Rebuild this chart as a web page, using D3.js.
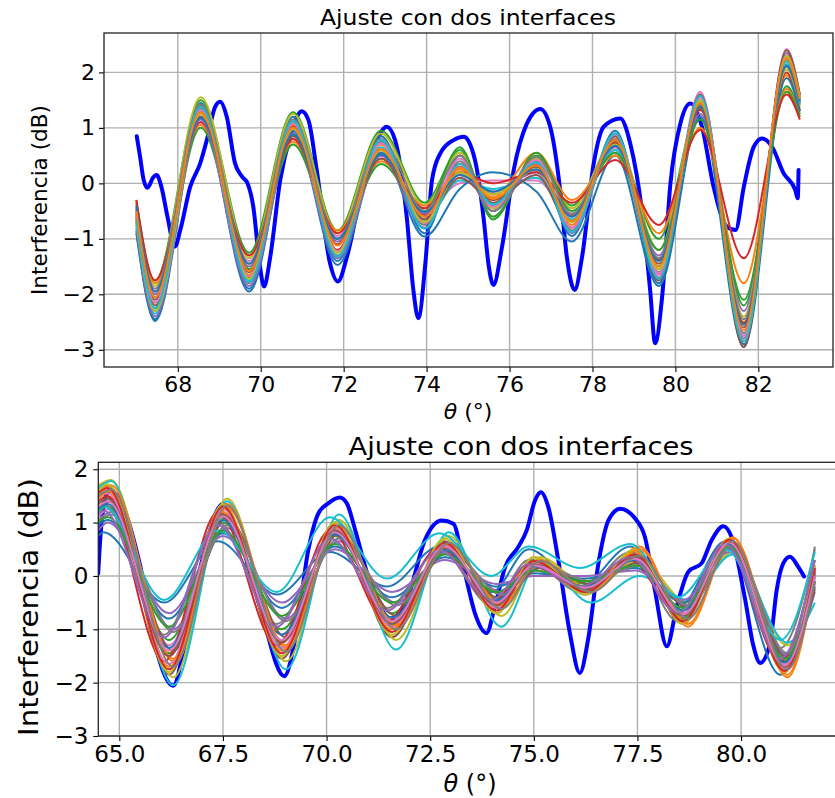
<!DOCTYPE html>
<html><head><meta charset="utf-8">
<script src="https://cdn.jsdelivr.net/npm/d3@7"></script>
<style>
body{margin:0;background:#fff}
svg{display:block}
text{font-family:"DejaVu Sans",sans-serif;fill:#000}
</style>
</head><body>
<svg id="chart" width="835" height="798"></svg>
<script>
// ---------------- DATA ----------------
const titleText = "Ajuste con dos interfaces";
const yLabelText = "Interferencia (dB)";

// Top panel: measured (thick blue) curve
const topBlueTheta = [67.01,67.09,67.18,67.27,67.4,67.49,67.6,67.75,67.93,68.06,68.3,68.54,68.7,68.9,69.02,69.18,69.38,69.55,69.68,69.82,69.97,70.08,70.23,70.47,70.71,70.99,71.15,71.35,71.67,71.86,72.08,72.48,72.8,73.04,73.24,73.52,73.68,73.8,73.97,74.13,74.33,74.65,74.9,75.05,75.2,75.37,75.5,75.61,75.82,76.1,76.42,76.74,76.98,77.22,77.38,77.57,77.75,78.03,78.27,78.67,78.91,79.19,79.39,79.51,79.68,79.88,80.12,80.36,80.64,80.92,81.24,81.45,81.65,81.89,82.09,82.33,82.61,82.89,82.95,82.97];
const topBlueDb = [0.85,0.48,0.05,-0.08,0.1,0.15,-0.05,-0.6,-1.14,-0.84,-0.06,0.36,0.78,1.38,1.47,1.2,0.36,0.12,0.0,-0.42,-1.44,-1.86,-1.32,0.06,0.84,1.3,1.14,0.24,-1.44,-1.77,-1.32,0.06,0.78,1.02,0.78,-0.6,-1.92,-2.43,-1.44,0.06,0.54,0.78,0.84,0.7,0.3,-0.6,-1.5,-1.83,-1.14,0.24,1.08,1.34,1.02,-0.12,-1.32,-1.92,-1.32,0.36,1.02,1.17,0.72,-0.48,-1.92,-2.88,-2.04,0.0,1.08,1.44,1.02,-0.06,-0.78,-0.84,-0.06,0.66,0.81,0.66,0.18,-0.12,-0.27,0.24];

// Top panel: fitted curves, values at the extrema positions
const topFitTheta = [67.0,67.45,68.55,69.72,70.78,71.85,72.9,73.95,74.8,75.6,76.65,77.5,78.55,79.6,80.6,81.65,82.68,83.0];
const topFitValues = [
  [-0.85,-2.45,1.45,-1.9,1.2,-1.4,0.85,-0.9,0.5,-0.5,0.45,-0.95,0.95,-1.8,1.6,-2.9,2.25,1.45],
  [-0.6,-2.15,1.3,-1.65,1.05,-1.2,0.7,-0.7,0.3,-0.3,0.35,-0.75,0.85,-1.55,1.5,-2.5,1.95,1.35],
  [-0.35,-1.75,1.5,-1.25,1.28,-0.85,0.95,-0.35,0.6,-0.6,0.5,-0.4,0.7,-1.0,1.4,-2.2,1.75,1.25],
  [-0.7,-2.25,1.4,-1.7,1.02,-1.2,0.6,-0.57,0.35,-0.2,0.25,-0.57,0.72,-1.38,1.32,-2.52,2.0,1.3],
  [-0.5,-2.0,1.2,-1.5,0.95,-1.05,0.55,-0.55,0.15,-0.15,0.2,-0.6,0.65,-1.3,1.25,-2.3,2.1,1.5],
  [-0.55,-2.1,1.25,-1.55,0.9,-1.1,0.6,-0.6,0.2,-0.35,0.3,-0.7,0.75,-1.45,1.35,-2.6,2.2,1.55],
  [-0.45,-1.95,1.1,-1.4,0.85,-0.95,0.5,-0.45,0.0,0.05,0.05,-0.55,0.6,-1.65,1.65,-2.95,2.42,1.6],
  [-0.65,-2.3,1.35,-1.8,1.1,-1.3,0.75,-0.75,0.4,-0.4,0.4,-0.85,0.9,-1.6,1.5,-2.7,2.3,1.55],
  [-0.4,-1.85,1.55,-1.35,1.25,-0.9,0.9,-0.4,0.55,-0.45,0.45,-0.45,0.8,-1.2,1.45,-2.4,2.05,1.4],
  [-0.75,-2.35,1.3,-1.75,1.0,-1.25,0.65,-0.65,0.05,-0.1,0.1,-0.65,0.6,-1.5,1.45,-2.75,2.15,1.5],
  [-0.9,-2.48,1.2,-1.95,0.95,-1.47,0.55,-0.96,-0.1,0.2,-0.15,-1.05,0.5,-1.85,1.2,-2.95,1.9,1.3],
  [-0.3,-1.8,1.05,-1.3,0.75,-0.85,0.4,-0.4,0.25,-0.25,0.55,-0.3,0.5,-0.9,1.0,-1.8,1.7,1.2],
  [-0.5,-2.05,1.0,-1.55,0.7,-1.0,0.35,-0.5,0.65,-0.65,0.55,-0.5,0.55,-1.2,1.15,-2.1,1.65,1.2],
  [-0.3,-1.75,1.1,-1.3,0.8,-0.9,0.45,-0.45,0.2,0.0,0.2,-0.35,0.42,-0.75,0.96,-1.35,1.6,1.15],
  [-0.8,-2.4,1.15,-1.85,0.9,-1.35,0.5,-0.8,0.3,-0.5,0.35,-0.9,0.8,-1.7,1.55,-2.8,2.35,1.6],
  [-0.6,-2.2,1.2,-1.6,0.85,-1.1,0.45,-0.65,0.1,-0.3,0.15,-0.8,0.85,-1.75,1.6,-2.95,2.4,1.6],
  [-0.55,-2.15,1.32,-1.68,1.08,-1.22,0.72,-0.72,0.45,-0.42,0.42,-0.8,0.88,-1.62,1.55,-2.75,2.28,1.5],
  [-0.45,-1.9,1.42,-1.45,1.15,-1.0,0.8,-0.5,0.5,-0.5,0.48,-0.55,0.78,-1.35,1.42,-2.45,2.1,1.42],
  [-0.7,-2.3,1.25,-1.72,0.98,-1.25,0.6,-0.7,0.2,-0.2,0.25,-0.7,0.7,-1.55,1.5,-2.85,2.3,1.55],
  [-0.65,-2.25,1.38,-1.78,1.12,-1.32,0.78,-0.82,0.35,-0.38,0.38,-0.88,0.9,-1.72,1.58,-2.85,2.2,1.45],
  [-0.4,-1.95,1.18,-1.45,0.88,-1.0,0.52,-0.52,0.15,-0.15,0.25,-0.6,0.68,-1.4,1.38,-2.55,2.12,1.48],
  [-0.5,-2.05,1.28,-1.58,1.0,-1.12,0.62,-0.6,0.28,-0.28,0.32,-0.68,0.78,-1.5,1.45,-2.65,2.25,1.52]
];

// Bottom panel: measured (thick blue) curve
const botBlueTheta = [64.49,64.55,64.62,64.75,65.0,65.5,65.9,66.3,66.6,67.0,67.5,67.9,68.4,68.98,69.24,69.56,69.8,70.04,70.32,70.49,70.69,71.0,71.55,72.0,72.37,72.78,73.06,73.34,73.58,73.86,74.06,74.31,74.63,74.83,75.03,75.17,75.35,75.59,75.87,76.11,76.31,76.56,76.8,77.08,77.44,77.68,77.92,78.21,78.45,78.73,79.05,79.29,79.57,79.77,80.1,80.3,80.46,80.7,80.86,81.02,81.18,81.38,81.52];
const botBlueDb = [0.05,0.8,1.3,1.6,1.45,0.2,-1.4,-2.06,-1.2,0.3,1.35,0.7,-0.6,-1.88,-1.19,0.49,1.17,1.36,1.47,1.36,0.86,0.0,-0.8,-0.3,0.67,1.04,0.98,0.05,-0.7,-1.07,-0.57,0.17,0.55,0.86,1.42,1.57,1.29,0.3,-1.07,-1.82,-1.19,0.24,1.04,1.26,1.08,0.73,-0.26,-1.32,-0.57,0.08,0.24,0.67,0.93,0.73,-0.45,-1.32,-1.63,-1.26,-0.26,0.24,0.36,0.17,-0.01];

// Bottom panel: fitted curves, values at extrema (three phase groups)
const botKnotsEarly = [64.49,64.62,66.08,67.38,68.8,70.08,71.46,72.72,73.98,74.88,76.12,77.33,78.48,79.62,80.95,81.78];
const botKnotsMid   = [64.49,64.72,66.2,67.5,68.92,70.2,71.58,72.85,74.1,75.0,76.25,77.45,78.6,79.72,81.05,81.78];
const botKnotsLate  = [64.49,64.8,66.3,67.6,69.02,70.3,71.68,72.95,74.22,75.15,76.38,77.55,78.72,79.8,81.12,81.78];
const botFitPhase = ["early","mid","mid","mid","late","mid","mid","early","late","late","mid","late","mid","early","mid","late","mid","late","mid","early","mid","late","mid","mid","early","mid","mid","late"];
const botFitValues = [
  [0.75,0.82,-0.5,0.65,-0.35,0.45,-0.2,0.55,-0.3,0.5,-0.2,0.55,-0.6,0.65,-1.85,0.1],
  [1.5,1.6,-1.7,1.2,-1.4,0.9,-1.0,0.6,-0.6,0.35,-0.3,0.45,-0.8,0.7,-1.75,0.2],
  [1.2,1.3,-1.2,1.0,-1.0,0.75,-0.7,0.5,-0.4,0.2,-0.15,0.3,-0.65,0.6,-1.6,0.0],
  [1.4,1.5,-1.5,1.15,-1.25,0.85,-0.9,0.55,-0.5,0.25,-0.2,0.35,-0.75,0.62,-1.7,-0.1],
  [1.0,1.15,-1.0,0.9,-0.8,0.65,-0.5,0.45,-0.3,0.15,-0.1,0.2,-0.55,0.55,-1.5,-0.3],
  [1.6,1.7,-1.85,1.3,-1.55,1.0,-1.15,0.65,-0.7,0.3,-0.35,0.4,-0.9,0.68,-1.8,0.1],
  [1.1,1.25,-1.3,1.05,-1.1,0.8,-0.8,0.5,-0.45,0.1,-0.2,0.25,-0.7,0.6,-1.65,-0.05],
  [1.3,1.35,-1.1,1.0,-0.9,0.7,-0.6,0.5,-0.55,0.3,-0.3,0.45,-0.85,0.6,-1.35,0.5],
  [1.7,1.8,-1.9,1.45,-1.6,1.05,-1.2,0.75,-0.75,0.35,-0.25,0.3,-0.5,0.45,-1.3,-0.2],
  [1.65,1.78,-2.05,1.4,-1.75,1.15,-1.38,0.82,-0.95,0.3,-0.5,0.0,-0.45,0.4,-1.25,-0.5],
  [0.95,1.05,-0.8,0.8,-0.6,0.55,-0.4,0.35,-0.2,0.05,-0.05,0.15,-0.5,0.5,-1.5,-0.2],
  [1.55,1.7,-1.6,1.35,-1.35,0.95,-0.95,0.6,-0.55,0.25,-0.25,0.55,-0.95,0.72,-1.9,0.0],
  [1.35,1.45,-1.45,1.1,-1.2,0.8,-0.85,0.52,-0.55,0.2,-0.25,0.4,-0.8,0.65,-1.7,0.15],
  [1.5,1.55,-1.6,1.2,-1.3,0.85,-0.85,0.55,-0.5,0.2,-0.2,0.3,-0.7,0.6,-1.6,0.3],
  [0.85,1.0,-0.7,0.75,-0.5,0.5,-0.3,0.3,-0.15,0.0,0.0,0.1,-0.45,0.45,-1.45,-0.15],
  [1.25,1.4,-1.4,1.1,-1.15,0.8,-0.75,0.5,-0.45,0.15,-0.15,0.25,-0.6,0.55,-1.55,-0.25],
  [1.45,1.55,-1.65,1.25,-1.35,0.9,-0.95,0.6,-0.6,0.25,-0.3,0.35,-0.75,0.65,-1.75,0.05],
  [1.05,1.2,-1.05,0.95,-0.85,0.7,-0.55,0.5,-0.35,0.2,-0.1,0.2,-0.55,0.55,-1.45,0.55],
  [1.6,1.72,-1.8,1.35,-1.5,1.0,-1.1,0.7,-0.7,0.35,-0.35,0.5,-0.9,0.7,-1.8,0.2],
  [1.2,1.3,-0.45,0.85,-0.3,1.1,-0.05,0.8,0.0,0.55,0.15,0.6,-0.4,0.5,-1.2,0.45],
  [1.25,1.35,-1.35,1.05,-1.1,0.78,-0.78,0.48,-0.45,0.18,-0.2,0.3,-0.65,0.6,-1.62,0.0],
  [1.45,1.6,-1.55,1.28,-1.3,0.92,-0.92,0.6,-0.55,0.3,-0.3,0.5,-0.9,0.72,-1.85,0.1],
  [1.0,1.1,-0.95,0.85,-0.75,0.6,-0.5,0.4,-0.3,0.1,-0.1,0.2,-0.6,0.55,-1.55,-0.1],
  [1.55,1.65,-1.75,1.3,-1.45,0.95,-1.05,0.62,-0.65,0.28,-0.3,0.4,-0.85,0.68,-1.78,0.15],
  [1.15,1.22,-1.15,0.95,-0.95,0.7,-0.65,0.48,-0.45,0.22,-0.2,0.35,-0.7,0.6,-1.55,0.3],
  [1.35,1.45,-1.5,1.15,-1.25,0.85,-0.9,0.55,-0.55,0.22,-0.25,0.35,-0.75,0.62,-1.7,0.05],
  [1.3,1.4,-1.4,1.12,-1.2,0.82,-0.85,0.55,-0.5,0.2,-0.22,0.32,-0.72,0.62,-1.68,0.0],
  [1.5,1.62,-1.7,1.32,-1.42,0.95,-1.0,0.62,-0.62,0.28,-0.3,0.38,-0.8,0.65,-1.75,-0.1]
];

const topXTicks = [68,70,72,74,76,78,80,82];
const botXTicks = [65.0,67.5,70.0,72.5,75.0,77.5,80.0];
const yTicks = [-3,-2,-1,0,1,2];
const fitColors = ["#1f77b4","#ff7f0e","#2ca02c","#d62728","#9467bd","#8c564b","#e377c2","#7f7f7f","#bcbd22","#17becf"];

// ---------------- DRAW ----------------
const svg = d3.select("#chart");
svg.append("rect").attr("width",835).attr("height",798).attr("fill","#fff");
const minus = s => s.replace("-", "\u2212");

function panel(cfg, id) {
  const x = d3.scaleLinear().domain(cfg.xDomain).range([cfg.left, cfg.right]);
  const y = d3.scaleLinear().domain(cfg.yDomain).range([cfg.bottom, cfg.top]);
  const g = svg.append("g");

  // grid
  g.selectAll(".gx").data(cfg.xTicks).join("line")
    .attr("x1", d => x(d)).attr("x2", d => x(d))
    .attr("y1", cfg.top).attr("y2", cfg.bottom)
    .attr("stroke", "#b0b0b0").attr("stroke-width", 1.4);
  g.selectAll(".gy").data(yTicks).join("line")
    .attr("x1", cfg.left).attr("x2", cfg.right)
    .attr("y1", d => y(d)).attr("y2", d => y(d))
    .attr("stroke", "#b0b0b0").attr("stroke-width", 1.4);

  g.append("clipPath").attr("id", "clip" + id).append("rect")
    .attr("x", cfg.left).attr("y", cfg.top)
    .attr("width", cfg.right - cfg.left).attr("height", cfg.bottom - cfg.top);
  const plot = g.append("g").attr("clip-path", `url(#clip${id})`);

  const line = d3.line().x(d => x(d[0])).y(d => y(d[1])).curve(d3.curveMonotoneX);

  // measured curve
  plot.append("path")
    .attr("d", line(cfg.blueTheta.map((t, i) => [t, cfg.blueDb[i]])))
    .attr("fill", "none").attr("stroke", "#0000ff")
    .attr("stroke-width", cfg.blueWidth).attr("stroke-linejoin", "round").attr("stroke-linecap","round");

  // fitted curves
  cfg.fits.forEach((vals, i) => {
    const knots = cfg.knotsFor(i);
    plot.append("path")
      .attr("d", line(knots.map((t, k) => [t, vals[k]])))
      .attr("fill", "none").attr("stroke", fitColors[i % 10])
      .attr("stroke-width", cfg.fitWidth).attr("stroke-linejoin", "round");
  });

  // axes
  const ax = g.append("g").attr("transform", `translate(0,${cfg.bottom})`)
    .call(d3.axisBottom(x).tickValues(cfg.xTicks).tickFormat(cfg.xFmt)
      .tickSize(5).tickPadding(cfg.xPad));
  ax.select(".domain").remove();
  ax.selectAll("line").attr("stroke", "#000").attr("stroke-width", 1.1);
  ax.selectAll("text").attr("font-size", cfg.tickFont).attr("fill", "#000")
    .style("font-family", '"DejaVu Sans"');

  const ay = g.append("g").attr("transform", `translate(${cfg.left},0)`)
    .call(d3.axisLeft(y).tickValues(yTicks).tickFormat(d => minus(String(d)))
      .tickSize(5).tickPadding(cfg.yPad));
  ay.select(".domain").remove();
  ay.selectAll("line").attr("stroke", "#000").attr("stroke-width", 1.1);
  ay.selectAll("text").attr("font-size", cfg.tickFont).attr("fill", "#000")
    .style("font-family", '"DejaVu Sans"');

  // frame
  g.append("rect").attr("x", cfg.left).attr("y", cfg.top)
    .attr("width", cfg.right - cfg.left).attr("height", cfg.bottom - cfg.top)
    .attr("fill", "none").attr("stroke", "#222").attr("stroke-width", 1.3);

  // title
  g.append("text").attr("x", cfg.titleX).attr("y", cfg.titleY)
    .attr("text-anchor", "middle").attr("font-size", cfg.titleFont)
    .attr("textLength", cfg.titleLen).attr("lengthAdjust", "spacingAndGlyphs")
    .text(titleText);

  // x label
  const xl = g.append("text").attr("x", cfg.xLabelX).attr("y", cfg.xLabelY)
    .attr("text-anchor", "middle").attr("font-size", cfg.xLabelFont);
  xl.append("tspan").attr("font-style", "italic").text("\u03b8");
  xl.append("tspan").text(" (\u00b0)");

  // y label
  g.append("text")
    .attr("transform", `translate(${cfg.yLabelX},${cfg.yLabelY}) rotate(-90)`)
    .attr("text-anchor", "middle").attr("font-size", cfg.yLabelFont)
    .attr("textLength", cfg.yLabelLen).attr("lengthAdjust", "spacingAndGlyphs")
    .text(yLabelText);
}

panel({
  left: 104, right: 833, top: 33, bottom: 367,
  xDomain: [66.22, 83.8], yDomain: [-3.31, 2.71],
  xTicks: topXTicks, xFmt: d => String(d),
  blueTheta: topBlueTheta, blueDb: topBlueDb, blueWidth: 4,
  fits: topFitValues, knotsFor: () => topFitTheta, fitWidth: 2,
  tickFont: 22, xPad: 4, yPad: 4,
  titleX: 468, titleY: 25, titleFont: 22, titleLen: 296,
  xLabelX: 468, xLabelY: 419, xLabelFont: 22,
  yLabelX: 47, yLabelY: 200, yLabelFont: 21.5, yLabelLen: 190
}, "t");

const phaseKnots = {early: botKnotsEarly, mid: botKnotsMid, late: botKnotsLate};
panel({
  left: 98.3, right: 842, top: 462.3, bottom: 736,
  xDomain: [64.493, 82.435], yDomain: [-3, 2.13],
  xTicks: botXTicks, xFmt: d3.format(".1f"),
  blueTheta: botBlueTheta, blueDb: botBlueDb, blueWidth: 4,
  fits: botFitValues, knotsFor: i => phaseKnots[botFitPhase[i]], fitWidth: 2,
  tickFont: 23, xPad: 5, yPad: 5,
  titleX: 521, titleY: 455, titleFont: 25, titleLen: 345,
  xLabelX: 470, xLabelY: 792, xLabelFont: 24,
  yLabelX: 38, yLabelY: 607, yLabelFont: 26, yLabelLen: 258
}, "b");
</script>
</body></html>
